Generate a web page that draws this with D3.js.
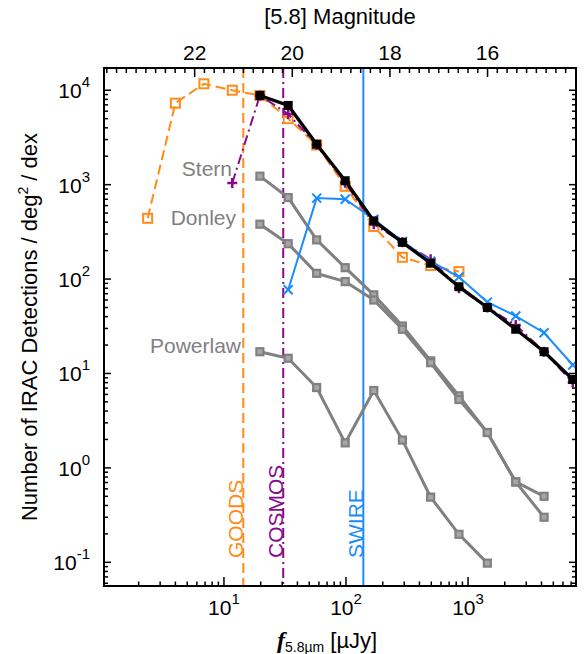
<!DOCTYPE html>
<html><head><meta charset="utf-8">
<script src="https://cdn.jsdelivr.net/npm/d3@7"></script>
<style>body{margin:0;background:#fff}svg{display:block}text{font-family:"Liberation Sans",Arial,Helvetica,sans-serif}</style>
</head><body>
<script>
// ---- data (flux in µJy, counts per deg^2 per dex) ----
const binsMain = [19.7, 33.6, 57.5, 98.5, 169, 290, 494, 843, 1440, 2460, 4200, 7210];
const goodsX = [2.37, 4.0, 6.85, 11.7, 19.7, 33.6, 57.5, 98.5, 169, 290, 494, 843];
const goodsY = [440, 7300, 11700, 10000, 8800, 5000, 2630, 960, 360, 170, 139, 120];
const cosmosX = [11.7, 19.7, 33.6, 57.5, 98.5, 169, 290, 494, 843, 1440, 2460, 4200, 7210];
const cosmosY = [1040, 8800, 5600, 2650, 1050, 380, 245, 162, 80, 50, 32.6, 17, 8.0];
const swireX = [33.6, 57.5, 98.5, 169, 290, 494, 843, 1440, 2460, 4200, 7210];
const swireY = [77, 720, 700, 430, 250, 155, 105, 57, 40.6, 27, 12.3];
const totalY = [8800, 6900, 2680, 1100, 413, 245, 147, 83, 50, 29.4, 17, 8.65];
const sternX = [19.7, 33.6, 57.5, 98.5, 169, 290, 494, 843, 1440, 2460, 4200];
const sternY = [1230, 730, 260, 132, 68, 31.8, 13.6, 5.8, 2.37, 0.71, 0.5];
const donleyY = [381, 237, 115, 94, 60, 29.4, 13, 5.3, 2.37, 0.71, 0.30];
const plawX = [19.7, 33.6, 57.5, 98.5, 169, 290, 494, 843, 1440];
const plawY = [17, 14.5, 7.1, 1.84, 6.6, 1.97, 0.49, 0.198, 0.098];
const limitNames = ["GOODS", "COSMOS", "SWIRE"];
const limitFlux = [14.4, 30.6, 138.7];
const yTicks = [0.1, 1, 10, 100, 1000, 10000];
const xTicks = [10, 100, 1000];
const magTicks = [16, 18, 20, 22];

const W = 584, H = 654;
const L = 104, R = 576, T = 68, B = 586;
const svg = d3.select("body").append("svg").attr("width", W).attr("height", H);
const x = d3.scaleLog().domain([1.04, 7670]).range([L, R]);
const y = d3.scaleLog().domain([0.0561, 17200]).range([B, T]);
const magToFlux = m => Math.pow(10, (23.9 - m) / 2.5);

const C = {orange: "#ff8c1a", purple: "#8b0a8b", blue: "#1a8cff", gray: "#808080", black: "#000"};

// clip
svg.append("clipPath").attr("id", "clip").append("rect").attr("x", L).attr("y", T).attr("width", R - L).attr("height", B - T);
const g = svg.append("g").attr("clip-path", "url(#clip)");

// limits
const limStyle = [{c: C.orange, d: "10,5"}, {c: C.purple, d: "10,4,2,4"}, {c: C.blue, d: null}];
limitFlux.forEach((f, i) => {
  const ln = g.append("line").attr("x1", x(f)).attr("x2", x(f)).attr("y1", T).attr("y2", B)
    .attr("stroke", limStyle[i].c).attr("stroke-width", 2);
  if (limStyle[i].d) ln.attr("stroke-dasharray", limStyle[i].d);
  svg.append("text").attr("transform", `translate(${x(f) - 0.5},558) rotate(-90)`)
    .attr("fill", limStyle[i].c).attr("font-size", 21).text(limitNames[i]);
});

const line = d3.line().x(d => x(d[0])).y(d => y(d[1]));
const zip = (a, b) => a.map((v, i) => [v, b[i]]);

// gray lines
[[sternX, sternY], [sternX, donleyY], [plawX, plawY]].forEach(([xs, ys]) => {
  const pts = zip(xs, ys);
  g.append("path").attr("d", line(pts)).attr("fill", "none").attr("stroke", C.gray).attr("stroke-width", 3);
  g.selectAll(null).data(pts).enter().append("rect")
    .attr("x", d => x(d[0]) - 3.5).attr("y", d => y(d[1]) - 3.5).attr("width", 7).attr("height", 7)
    .attr("fill", "#a6a6a6").attr("stroke", C.gray).attr("stroke-width", 2.2);
});

// GOODS
const gp = zip(goodsX, goodsY);
g.append("path").attr("d", line(gp)).attr("fill", "none").attr("stroke", C.orange).attr("stroke-width", 2).attr("stroke-dasharray", "10,5");
g.selectAll(null).data(gp).enter().append("rect")
  .attr("x", d => x(d[0]) - 4.5).attr("y", d => y(d[1]) - 4.5).attr("width", 9).attr("height", 9)
  .attr("fill", "none").attr("stroke", C.orange).attr("stroke-width", 2);

// COSMOS
const cp = zip(cosmosX, cosmosY);
g.append("path").attr("d", line(cp)).attr("fill", "none").attr("stroke", C.purple).attr("stroke-width", 2).attr("stroke-dasharray", "10,4,2,4");
g.selectAll(null).data(cp).enter().append("path")
  .attr("d", d => { const cx = x(d[0]), cy = y(d[1]), s = 5; return `M${cx - s},${cy}H${cx + s}M${cx},${cy - s}V${cy + s}`; })
  .attr("stroke", C.purple).attr("stroke-width", 2.5);

// SWIRE
const sp = zip(swireX, swireY);
g.append("path").attr("d", line(sp)).attr("fill", "none").attr("stroke", C.blue).attr("stroke-width", 2);
g.selectAll(null).data(sp).enter().append("path")
  .attr("d", d => { const cx = x(d[0]), cy = y(d[1]), s = 4.5; return `M${cx - s},${cy - s}L${cx + s},${cy + s}M${cx - s},${cy + s}L${cx + s},${cy - s}`; })
  .attr("stroke", C.blue).attr("stroke-width", 2);

// total
const tp = zip(binsMain, totalY);
g.append("path").attr("d", line(tp)).attr("fill", "none").attr("stroke", C.black).attr("stroke-width", 3.3);
g.selectAll(null).data(tp).enter().append("rect")
  .attr("x", d => x(d[0]) - 4.5).attr("y", d => y(d[1]) - 4.5).attr("width", 9).attr("height", 9).attr("fill", C.black);

// series labels
const labs = [["Stern", 232, 176], ["Donley", 236, 225], ["Powerlaw", 241, 353]];
labs.forEach(([t, lx, ly]) => svg.append("text").attr("x", lx).attr("y", ly).attr("text-anchor", "end")
  .attr("fill", C.gray).attr("font-size", 21).text(t));

// frame
svg.append("rect").attr("x", L).attr("y", T).attr("width", R - L).attr("height", B - T)
  .attr("fill", "none").attr("stroke", "#000").attr("stroke-width", 2);

// log ticks helper
function logMinor(lo, hi) {
  const out = [];
  for (let e = Math.floor(Math.log10(lo)); e <= Math.ceil(Math.log10(hi)); e++)
    for (let k = 1; k <= 9; k++) { const v = k * Math.pow(10, e); if (v >= lo && v <= hi) out.push({v, major: k === 1}); }
  return out;
}
const tk = svg.append("g").attr("stroke", "#000").attr("stroke-width", 1.5);
logMinor(0.0561, 17200).forEach(t => {
  const len = t.major ? 7 : 4, yy = y(t.v);
  tk.append("line").attr("x1", L).attr("x2", L + len).attr("y1", yy).attr("y2", yy);
  tk.append("line").attr("x1", R).attr("x2", R - len).attr("y1", yy).attr("y2", yy);
});
logMinor(1.04, 7670).forEach(t => {
  const len = t.major ? 9 : 4.5, xx = x(t.v);
  tk.append("line").attr("x1", xx).attr("x2", xx).attr("y1", B).attr("y2", B - len);
});
for (let m = 142; m <= 238; m += 2) {
  const mag = m / 10, major = m % 20 === 0, xx = x(magToFlux(mag));
  if (xx < L + 1 || xx > R - 1) continue;
  tk.append("line").attr("x1", xx).attr("x2", xx).attr("y1", T).attr("y2", T + (major ? 9 : 5));
}

// tick labels
const sup = (sel, base, exp) => { sel.append("tspan").text(base); sel.append("tspan").attr("font-size", 15).attr("dy", -11).text(exp); };
yTicks.forEach(v => {
  const t = svg.append("text").attr("x", 90).attr("y", y(v) + 8).attr("text-anchor", "end").attr("font-size", 21);
  sup(t, "10", Math.round(Math.log10(v)));
});
xTicks.forEach(v => {
  const t = svg.append("text").attr("x", x(v)).attr("y", 615).attr("text-anchor", "middle").attr("font-size", 21);
  sup(t, "10", Math.round(Math.log10(v)));
});
magTicks.forEach(m => svg.append("text").attr("x", x(magToFlux(m))).attr("y", 60).attr("text-anchor", "middle").attr("font-size", 21).text(m));

// axis titles
svg.append("text").attr("x", (L + R) / 2).attr("y", 24).attr("text-anchor", "middle").attr("font-size", 22).text("[5.8] Magnitude");
const yt = svg.append("text").attr("transform", `translate(37,327) rotate(-90)`).attr("text-anchor", "middle").attr("font-size", 22);
yt.append("tspan").text("Number of IRAC Detections / deg");
yt.append("tspan").attr("font-size", 14).attr("dy", -9).text("2");
yt.append("tspan").attr("dy", 9).text(" / dex");
const xt = svg.append("text").attr("x", 277).attr("y", 648).attr("font-size", 22);
xt.append("tspan").attr("font-family", "'Liberation Serif',serif").attr("font-style", "italic").attr("font-weight", "bold").attr("font-size", 24).text("f");
xt.append("tspan").attr("font-size", 14).attr("dy", 4).text("5.8µm");
xt.append("tspan").attr("dy", -4).text(" [µJy]");
</script>
</body></html>
